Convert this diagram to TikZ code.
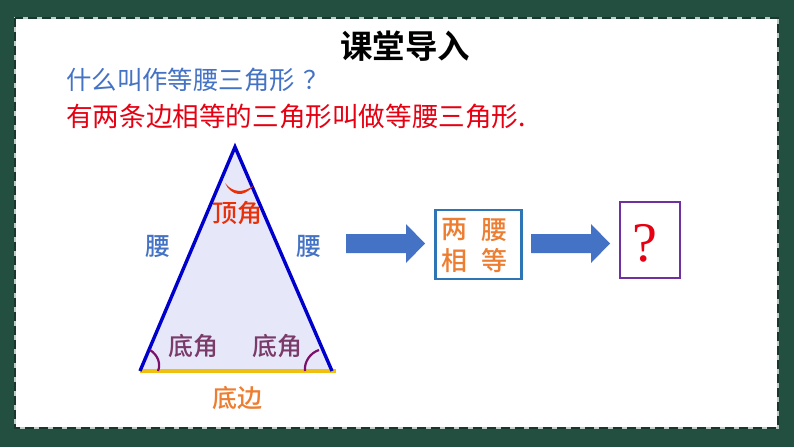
\documentclass[tikz,border=0pt]{standalone}
\usepackage{fontspec}
\setmainfont{Liberation Serif}
\newfontfamily\cjk{Noto Sans CJK SC Medium}
\newfontfamily\cjkr{Noto Sans CJK SC}
\newfontfamily\cjkb{Noto Sans CJK SC Bold}
\definecolor{frame}{HTML}{234F40}
\definecolor{qblue}{HTML}{4472C4}
\definecolor{ared}{HTML}{E60012}
\definecolor{tfill}{HTML}{E6E8FA}
\definecolor{tedge}{HTML}{0000CC}
\definecolor{base}{HTML}{F0C010}
\definecolor{plum}{HTML}{7A3B6A}
\definecolor{arc}{HTML}{7B0F6B}
\definecolor{orange}{HTML}{ED7D31}
\definecolor{top}{HTML}{E8300A}
\definecolor{boxb}{HTML}{2E75B6}
\definecolor{boxp}{HTML}{7030A0}
\tikzset{
  lbl/.style={inner sep=0pt,font=\cjk\fontsize{#1}{#1}\selectfont},
  lbl/.default=25,
  txt/.style={inner sep=0pt,font=\cjkr\fontsize{#1}{#1}\selectfont},
  block/.style={draw=#1,line width=2.2pt,fill=white,inner sep=0pt},
  fatarrow/.style={fill=qblue}
}
\begin{document}
\begin{tikzpicture}[x=1pt,y=-1pt]
\useasboundingbox (0,0) rectangle (794,447);
\fill[frame] (0,0) rectangle (794,447);
\fill[white] (15,18) rectangle (778,428);
\draw[white!70!frame,line width=1.2pt] (15,18) rectangle (778,428);
\draw[frame!70!black,line width=1.2pt,dash pattern=on 9pt off 5pt] (15,18) rectangle (778,428);

\node[inner sep=0pt,font=\cjkb\fontsize{32.5}{32.5}\selectfont] (title) at (405,46) {课堂导入};
\node[txt=25.4,text=qblue,anchor=west] (q) at (66,80) {什么叫作等腰三角形};
\node[txt=25.4,text=qblue,anchor=west] (qq) at (303,80) {？};
\node[txt=26.6,text=ared,anchor=west] (a) at (66,116) {有两条边相等的三角形叫做等腰三角形.};

\coordinate (apex) at (235,147);
\coordinate (bl) at (140,371);
\coordinate (br) at (332,371);
\coordinate (be) at (336,371);
\fill[tfill] (apex) -- (br) -- (bl) -- cycle;
\draw[base,line width=3.2pt] (bl) -- (be);
\draw[tedge,line width=3.4pt,line join=miter] (bl) -- (apex) -- (br);

\fill[top] (225,183) .. controls (233,193) and (243,193) .. (253,186)
  .. controls (244,198) and (231,196) .. (225,183) -- cycle;
\draw[arc,line width=2.2pt] (150,350) .. controls (158,355) and (161,364) .. (158,371);
\draw[arc,line width=2.2pt] (319,350) .. controls (310,353) and (304,362) .. (305,371);

\node[lbl=25,text=top] (ding) at (237,213) {顶角};
\node[lbl=25,text=qblue] (y1) at (158,246) {腰};
\node[lbl=25,text=qblue] (y2) at (309,246) {腰};
\node[lbl=25,text=plum] (d1) at (193,346) {底角};
\node[lbl=25,text=plum] (d2) at (277,346) {底角};
\node[lbl=25,text=orange] (be2) at (237,398) {底边};

\node[block=boxb,minimum width=86pt,minimum height=69pt] (box) at (478.5,244.5) {};
\node[lbl=26,text=orange] at (454,230) {两};
\node[lbl=26,text=orange] at (494,230) {腰};
\node[lbl=26,text=orange] at (454,261) {相};
\node[lbl=26,text=orange] at (494,261) {等};

\node[block=boxp,line width=2.6pt,minimum width=60pt,minimum height=76pt] (qbox) at (650,240) {};
\node[inner sep=0pt,text=ared,font=\fontsize{56}{56}\selectfont] (qm) at (645,243) {?};

\fill[fatarrow] (346,234) -- (406,234) -- (406,224) -- (425,243.5) -- (406,263) -- (406,253) -- (346,253) -- cycle;
\fill[fatarrow] (531,234) -- (591,234) -- (591,224) -- (610,243.5) -- (591,263) -- (591,253) -- (531,253) -- cycle;
\end{tikzpicture}
\end{document}
